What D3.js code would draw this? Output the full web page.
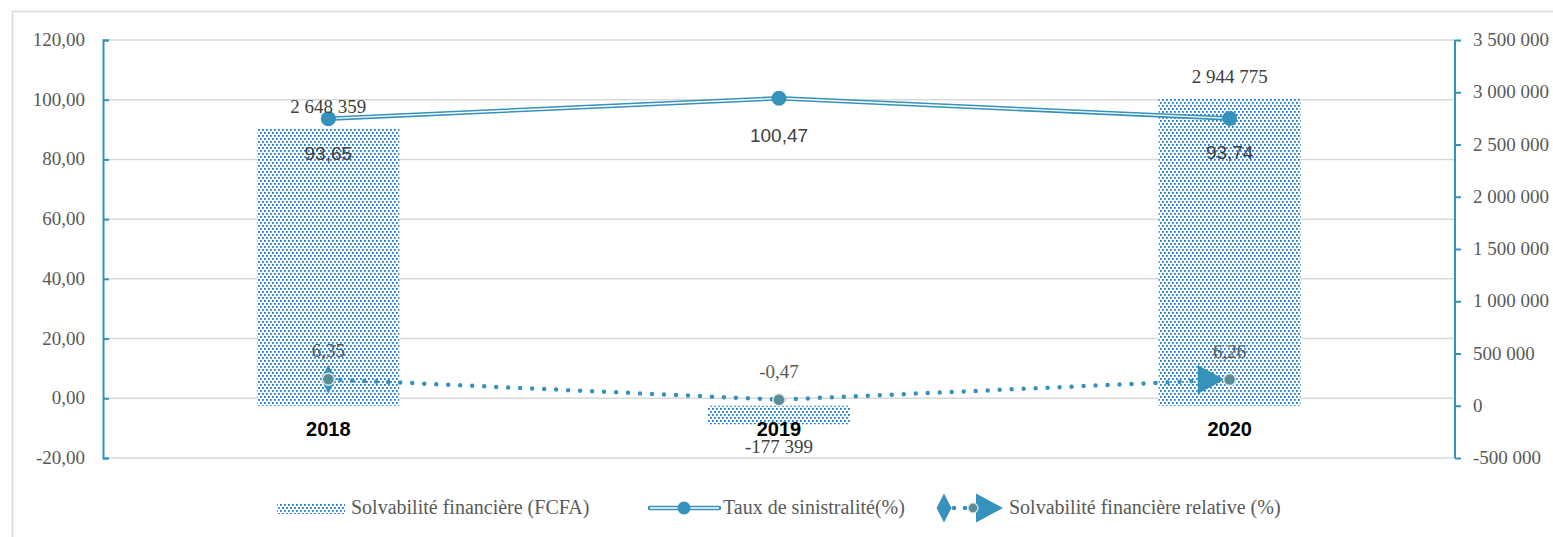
<!DOCTYPE html>
<html><head><meta charset="utf-8">
<script src="https://cdn.jsdelivr.net/npm/d3@7"></script>
<style>html,body{margin:0;padding:0;background:#fff;overflow:hidden}</style>
</head><body>
<svg id="chart" width="1553" height="537"></svg>
<script>
// ---- data ----
const categories = ["2018", "2019", "2020"];
const solvabilite = [2648359, -177399, 2944775];          // FCFA (right axis, bars)
const tauxSinistralite = [93.65, 100.47, 93.74];           // % (left axis, line)
const solvabiliteRelative = [6.35, -0.47, 6.26];           // % (left axis, dotted)
const leftTicks = [-20, 0, 20, 40, 60, 80, 100, 120];
const rightTicks = [-500000, 0, 500000, 1000000, 1500000, 2000000, 2500000, 3000000, 3500000];
const legendLabels = ["Solvabilité financière (FCFA)", "Taux de sinistralité(%)", "Solvabilité financière relative (%)"];

// ---- setup ----
const svg = d3.select("#chart");
const blue = "#3592bc", grid = "#d9d9d9", txt = "#595959";
const serif = "'Liberation Serif', serif", sans = "'Liberation Sans', sans-serif";
const loc = d3.formatLocale({decimal: ",", thousands: " ", grouping: [3], currency: ["", ""], minus: "-"});
const fL = loc.format(".2f"), fR = loc.format(",.0f");

const x = d3.scaleBand().domain(categories).range([103, 1455]);
const yL = d3.scaleLinear().domain([-20, 120]).range([458, 40]);
const yR = d3.scaleLinear().domain([-500000, 3500000]).range([458, 40]);
const cx = c => x(c) + x.bandwidth() / 2;
const barW = 142;

const defs = svg.append("defs");
const pat = defs.append("pattern").attr("id", "dots").attr("patternUnits", "userSpaceOnUse")
  .attr("width", 4).attr("height", 6);
pat.append("rect").attr("width", 4).attr("height", 6).attr("fill", "#ffffff");
pat.append("rect").attr("x", 0).attr("y", 0).attr("width", 1.8).attr("height", 1.8).attr("fill", "#1f78c8");
pat.append("rect").attr("x", 2).attr("y", 3).attr("width", 1.8).attr("height", 1.8).attr("fill", "#1f78c8");

// outer border
svg.append("rect").attr("x", 12.5).attr("y", 11.5).attr("width", 1700).attr("height", 700)
  .attr("fill", "none").attr("stroke", grid).attr("stroke-width", 1.5);

// gridlines
svg.append("g").selectAll("line").data(leftTicks).join("line")
  .attr("x1", 103).attr("x2", 1455).attr("y1", d => yL(d)).attr("y2", d => yL(d))
  .attr("stroke", grid).attr("stroke-width", 1.5);

// left axis
const gL = svg.append("g").attr("transform", "translate(103,0)")
  .call(d3.axisRight(yL).tickValues(leftTicks).tickSize(6).tickFormat(""));
gL.selectAll("path,line").attr("stroke", blue).attr("stroke-width", 2);
svg.append("g").selectAll("text").data(leftTicks).join("text")
  .attr("x", 85).attr("y", d => yL(d) + 6).attr("text-anchor", "end")
  .attr("font-family", serif).attr("font-size", 19).attr("fill", txt).text(d => fL(d));

// right axis
const gR = svg.append("g").attr("transform", "translate(1455,0)")
  .call(d3.axisRight(yR).tickValues(rightTicks).tickSize(6).tickFormat(""));
gR.selectAll("path,line").attr("stroke", blue).attr("stroke-width", 2);
gR.select("path").attr("d", `M0,${yR(-500000)}V${yR(3500000)}`);
svg.append("g").selectAll("text").data(rightTicks).join("text")
  .attr("x", 1473).attr("y", d => yR(d) + 6).attr("text-anchor", "start")
  .attr("font-family", serif).attr("font-size", 19).attr("fill", txt).text(d => fR(d));

// bars
svg.append("g").selectAll("rect").data(solvabilite).join("rect")
  .attr("x", (d, i) => cx(categories[i]) - barW / 2).attr("width", barW)
  .attr("y", d => yR(Math.max(0, d))).attr("height", d => Math.abs(yR(d) - yR(0)))
  .attr("fill", "url(#dots)");

// taux line (double line)
const lineT = d3.line().x((d, i) => cx(categories[i])).y(d => yL(d));
svg.append("path").attr("d", lineT(tauxSinistralite)).attr("fill", "none").attr("stroke", blue).attr("stroke-width", 4.5);
svg.append("path").attr("d", lineT(tauxSinistralite)).attr("fill", "none").attr("stroke", "#fff").attr("stroke-width", 1.4);
svg.append("g").selectAll("circle").data(tauxSinistralite).join("circle")
  .attr("cx", (d, i) => cx(categories[i])).attr("cy", d => yL(d)).attr("r", 7.5).attr("fill", blue);

// relative dotted line
const pts = solvabiliteRelative.map((d, i) => [cx(categories[i]), yL(d)]);
svg.append("path").attr("d", d3.line()(pts)).attr("fill", "none").attr("stroke", blue)
  .attr("stroke-width", 4.5).attr("stroke-dasharray", "0 12").attr("stroke-linecap", "round");
const p0 = pts[0];
svg.append("path").attr("d", `M${p0[0]},${p0[1]-14.5}L${p0[0]+7.5},${p0[1]}L${p0[0]},${p0[1]+14.5}L${p0[0]-7.5},${p0[1]}Z`).attr("fill", blue);
const pN = pts[pts.length - 1];
const tip = pN[0] - 5;
svg.append("path").attr("d", `M${tip},${pN[1]}L${tip-27},${pN[1]-14.5}L${tip-27},${pN[1]+14.5}Z`).attr("fill", blue);
svg.append("g").selectAll("circle").data(pts).join("circle")
  .attr("cx", d => d[0]).attr("cy", d => d[1]).attr("r", 6)
  .attr("fill", "#5a8b97").attr("stroke", "#dce8ec").attr("stroke-width", 1.5);

// category labels
svg.append("g").selectAll("text").data(categories).join("text")
  .attr("x", d => cx(d)).attr("y", 436).attr("text-anchor", "middle")
  .attr("font-family", sans).attr("font-weight", "bold").attr("font-size", 20).attr("fill", "#000").text(d => d);

// value labels - bars
svg.append("g").selectAll("text").data(solvabilite).join("text")
  .attr("x", (d, i) => cx(categories[i]))
  .attr("y", (d, i) => i === 0 ? yL(tauxSinistralite[0]) - 6 : d >= 0 ? yR(d) - 15 : yR(d) + 29)
  .attr("text-anchor", "middle").attr("font-family", serif).attr("font-size", 19).attr("fill", "#404040")
  .text(d => fR(d));

// value labels - taux
svg.append("g").selectAll("text").data(tauxSinistralite).join("text")
  .attr("x", (d, i) => cx(categories[i]))
  .attr("y", d => yL(d) + (d > 100 ? 44 : 41))
  .attr("text-anchor", "middle").attr("font-family", sans).attr("font-size", 19).attr("fill", "#404040")
  .text(d => fL(d));

// value labels - relative
svg.append("g").selectAll("text").data(solvabiliteRelative).join("text")
  .attr("x", (d, i) => cx(categories[i]))
  .attr("y", d => yL(d) - 22)
  .attr("text-anchor", "middle").attr("font-family", serif).attr("font-size", 19).attr("fill", txt)
  .text(d => fL(d));

// legend
const lg = svg.append("g");
const ly = 508;
lg.append("rect").attr("x", 277).attr("y", ly - 5).attr("width", 68).attr("height", 11).attr("fill", "url(#dots)");
lg.append("text").attr("x", 351).attr("y", ly + 6).attr("font-family", serif).attr("font-size", 20).attr("fill", txt).text(legendLabels[0]);
lg.append("line").attr("x1", 650).attr("x2", 719).attr("y1", ly).attr("y2", ly).attr("stroke", blue).attr("stroke-width", 4.5).attr("stroke-linecap", "round");
lg.append("line").attr("x1", 650).attr("x2", 719).attr("y1", ly).attr("y2", ly).attr("stroke", "#fff").attr("stroke-width", 1.4);
lg.append("circle").attr("cx", 684).attr("cy", ly).attr("r", 6.5).attr("fill", blue);
lg.append("text").attr("x", 723).attr("y", ly + 6).attr("font-family", serif).attr("font-size", 20).attr("fill", txt).text(legendLabels[1]);
lg.append("path").attr("d", `M944,${ly-14.5}L951.5,${ly}L944,${ly+14.5}L936.5,${ly}Z`).attr("fill", blue);
lg.append("circle").attr("cx", 954).attr("cy", ly).attr("r", 2.3).attr("fill", blue);
lg.append("circle").attr("cx", 965).attr("cy", ly).attr("r", 2.3).attr("fill", blue);
lg.append("path").attr("d", `M1003,${ly}L976,${ly-14.5}L976,${ly+14.5}Z`).attr("fill", blue);
lg.append("circle").attr("cx", 973).attr("cy", ly).attr("r", 5).attr("fill", "#5a8b97").attr("stroke", "#dce8ec").attr("stroke-width", 1.2);
lg.append("text").attr("x", 1009).attr("y", ly + 6).attr("font-family", serif).attr("font-size", 20).attr("fill", txt).text(legendLabels[2]);
</script>
</body></html>
